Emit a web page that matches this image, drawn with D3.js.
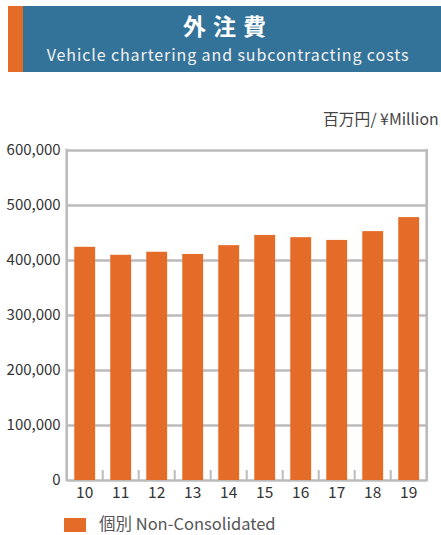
<!DOCTYPE html>
<html><head><meta charset="utf-8">
<script src="https://cdn.jsdelivr.net/npm/d3@7"></script>
<style>body{margin:0;background:#fff;}svg{display:block;}</style>
</head><body>
<script>
const categories = ["10","11","12","13","14","15","16","17","18","19"];
const values = [424000, 409500, 415000, 411000, 427000, 445500, 441500, 436500, 452500, 478000];
const yTicks = [0, 100000, 200000, 300000, 400000, 500000, 600000];
const titleJa = "外注費";
const titleEn = "Vehicle chartering and subcontracting costs";
const unitLabel = "百万円/ ¥Million";
const legendLabel = "個別 Non-Consolidated";

(function () {
const W = 441, H = 535;
const orange = "#E56B28", blue = "#347399", gray = "#BBBBBB";
const svg = d3.select("body").append("svg").attr("width", W).attr("height", H);
const font = "'Noto Sans CJK JP','Noto Sans',sans-serif";

// header
svg.append("rect").attr("x", 8).attr("y", 6).attr("width", 15).attr("height", 66).attr("fill", orange);
svg.append("rect").attr("x", 23).attr("y", 6).attr("width", W - 23).attr("height", 66).attr("fill", blue);
svg.append("text").attr("x", 228).attr("y", 35).attr("text-anchor", "middle")
  .attr("fill", "#fff").attr("font-family", font).attr("font-weight", "bold")
  .attr("font-size", 23).attr("letter-spacing", 7).text(titleJa);
svg.append("text").attr("x", 228).attr("y", 61).attr("text-anchor", "middle")
  .attr("fill", "#f2f2f2").attr("font-family", font)
  .attr("font-size", 16).attr("letter-spacing", 0.9).text(titleEn);

// unit
svg.append("text").attr("x", 323).attr("y", 125).attr("fill", "#444")
  .attr("font-family", font).attr("font-size", 15.8).text(unitLabel);

const pLeft = 66.7, pRight = 426.7, pTop = 150, pBottom = 480;
const x = d3.scaleBand().domain(categories).range([pLeft, pRight]).paddingInner(0.42).paddingOuter(0.21);
const y = d3.scaleLinear().domain([0, 600000]).range([pBottom, pTop]);

// grid
const yAxis = d3.axisLeft(y).tickValues(yTicks).tickSize(-(pRight - pLeft)).tickFormat(d3.format(","));
const gy = svg.append("g").attr("transform", `translate(${pLeft},0)`).call(yAxis);
gy.select(".domain").remove();
gy.selectAll(".tick line").attr("stroke", gray).attr("stroke-width", 2.6);
gy.selectAll(".tick text").attr("x", -6).attr("fill", "#333").attr("font-family", font).attr("font-size", 15);

// frame verticals
svg.append("line").attr("x1", pLeft).attr("x2", pLeft).attr("y1", pTop - 1.3).attr("y2", pBottom + 1.3).attr("stroke", gray).attr("stroke-width", 2.6);
svg.append("line").attr("x1", pRight).attr("x2", pRight).attr("y1", pTop - 1.3).attr("y2", pBottom + 1.3).attr("stroke", gray).attr("stroke-width", 2.6);

// small ticks at band boundaries
const step = x.step();
svg.append("g").selectAll("line").data(categories.slice(1)).join("line")
  .attr("x1", d => x(d) - (step - x.bandwidth()) / 2).attr("x2", d => x(d) - (step - x.bandwidth()) / 2)
  .attr("y1", pBottom - 10).attr("y2", pBottom).attr("stroke", gray).attr("stroke-width", 2);

// bars
svg.append("g").selectAll("rect").data(values).join("rect")
  .attr("x", (d, i) => x(categories[i])).attr("width", x.bandwidth())
  .attr("y", d => y(d)).attr("height", d => pBottom - y(d)).attr("fill", orange);

// x axis labels
const xAxis = d3.axisBottom(x).tickSize(0).tickPadding(7);
const gx = svg.append("g").attr("transform", `translate(0,${pBottom})`).call(xAxis);
gx.select(".domain").remove();
gx.selectAll(".tick text").attr("fill", "#333").attr("font-family", font).attr("font-size", 15.5);

// legend
svg.append("rect").attr("x", 64).attr("y", 518).attr("width", 22).attr("height", 14).attr("fill", orange);
svg.append("text").attr("x", 99).attr("y", 530).attr("fill", "#555").attr("font-family", font)
  .attr("font-size", 16.5).text(legendLabel);
})();
</script>
</body></html>
